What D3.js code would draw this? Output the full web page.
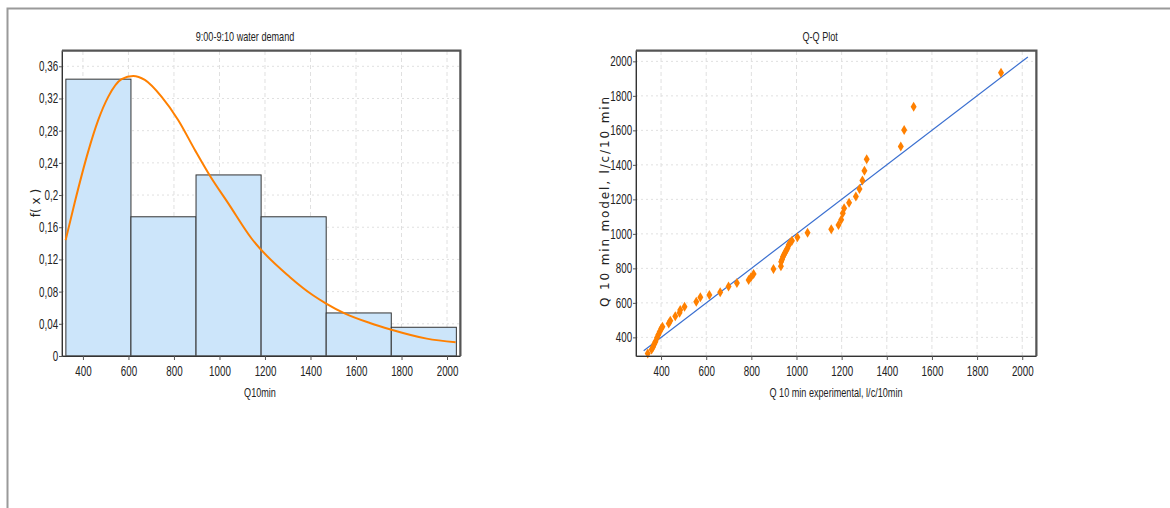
<!DOCTYPE html>
<html>
<head>
<meta charset="utf-8">
<script src="https://cdnjs.cloudflare.com/ajax/libs/d3/7.8.5/d3.min.js"></script>
<style>
  body { margin: 0; background: #fff; }
  svg text.sq { transform-box: fill-box; transform-origin: center; transform: scaleX(0.7); }
  svg text.sqr { transform-box: fill-box; transform-origin: right center; transform: scaleX(0.7); }
</style>
</head>
<body>
<div id="chart"></div>
<script>
// histogram (relative frequency per class)
var binEdges = [325, 611, 897, 1183, 1469, 1755, 2041];
var binFreq = [0.344, 0.173, 0.225, 0.173, 0.0535, 0.0357];

// fitted density
var curveX = [324, 365, 423, 467, 511, 570, 621, 672, 746, 819, 892, 958, 1038, 1141, 1310, 1411, 1467, 1550, 1661, 1752, 1911, 2038];
var curveY = [0.144, 0.192, 0.254, 0.293, 0.322, 0.344, 0.348, 0.343, 0.322, 0.293, 0.256, 0.224, 0.190, 0.146, 0.098, 0.0755, 0.0655, 0.053, 0.041, 0.033, 0.0216, 0.017];

// Q-Q points: experimental vs model
var qqExp = [341, 358, 365, 370, 375, 382, 388, 394, 401, 406, 434, 441, 463, 482, 485, 504, 556, 574, 614, 662, 699, 736, 788, 798, 810,
             898, 931, 932, 936, 940, 945, 950, 955, 960, 965, 972, 980, 1004, 1049, 1154, 1186, 1198, 1205, 1211, 1233, 1263, 1279, 1292, 1301, 1311,
             1462, 1477, 1519, 1906];
var qqMod = [307, 330, 346, 362, 375, 398, 415, 432, 452, 462, 481, 496, 523, 543, 558, 577, 606, 632, 645, 662, 695, 715, 732, 748, 767,
             797, 812, 838, 852, 867, 880, 892, 905, 916, 935, 948, 960, 980, 1006, 1027, 1052, 1082, 1119, 1148, 1181, 1217, 1260, 1310, 1366, 1433,
             1507, 1602, 1737, 1934];
var qqLine = [323, 2025];

var histXTicks = [400, 600, 800, 1000, 1200, 1400, 1600, 1800, 2000];
var histYTicks = [0, 0.04, 0.08, 0.12, 0.16, 0.2, 0.24, 0.28, 0.32, 0.36];
var qqXTicks = [400, 600, 800, 1000, 1200, 1400, 1600, 1800, 2000];
var qqYTicks = [400, 600, 800, 1000, 1200, 1400, 1600, 1800, 2000];

var W = 1170, H = 508;
var font = "'Liberation Sans', Arial, sans-serif";

var svg = d3.select("#chart").append("svg")
  .attr("width", W).attr("height", H)
  .style("font-family", font);

// outer frame
svg.append("path")
  .attr("d", "M7.5,508 V8.5 H1170")
  .attr("fill", "none").attr("stroke", "#9a9a9a").attr("stroke-width", 2);

function panel(opt) {
  var g = svg.append("g");
  var x = opt.x, y = opt.y;
  var x0 = x.range()[0], x1 = x.range()[1], y0 = y.range()[1], y1 = y.range()[0];

  // grid
  g.append("g").selectAll("line").data(opt.xTicks).enter().append("line")
    .attr("x1", function(d) { return x(d); }).attr("x2", function(d) { return x(d); })
    .attr("y1", y0).attr("y2", y1)
    .attr("stroke", "#e0e0e0").attr("stroke-dasharray", "4,3");
  g.append("g").selectAll("line").data(opt.yTicks).enter().append("line")
    .attr("y1", function(d) { return y(d); }).attr("y2", function(d) { return y(d); })
    .attr("x1", x0).attr("x2", x1)
    .attr("stroke", "#e0e0e0").attr("stroke-dasharray", "2,3");

  opt.draw(g, x, y);

  // frame
  g.append("rect").attr("x", x0).attr("y", y0).attr("width", x1 - x0).attr("height", y1 - y0)
    .attr("fill", "none").attr("stroke", "#555");
  g.append("path").attr("d", "M" + x0 + "," + (y0 - 0.5) + " H" + (x1 + 0.5) + " V" + y1)
    .attr("fill", "none").attr("stroke", "#555").attr("stroke-width", 2);

  // axes with minor ticks
  var gx = g.append("g").attr("transform", "translate(0," + y1 + ")");
  gx.call(d3.axisBottom(x).tickValues(opt.xMinor).tickSize(2).tickFormat(""));
  gx.call(d3.axisBottom(x).tickValues(opt.xTicks).tickSizeInner(4).tickSizeOuter(0).tickPadding(6).tickFormat(d3.format("d")));
  gx.selectAll(".tick text").attr("class", "sq").style("font-size", "14px").attr("fill", "#222");
  gx.selectAll("path.domain").attr("stroke", "#333");
  gx.selectAll("line").attr("stroke", "#555");

  var gy = g.append("g").attr("transform", "translate(" + x0 + ",0)");
  gy.call(d3.axisLeft(y).tickValues(opt.yMinor).tickSize(2).tickFormat(""));
  gy.call(d3.axisLeft(y).tickValues(opt.yTicks).tickSizeInner(3).tickSizeOuter(0).tickPadding(opt.yPad).tickFormat(opt.yFmt));
  gy.selectAll(".tick text").attr("class", "sqr").style("font-size", "14px").attr("fill", "#222");
  gy.selectAll("path.domain").attr("stroke", "#333");
  gy.selectAll("line").attr("stroke", "#555");

  // texts
  g.append("text").attr("class", "sq").attr("x", opt.titleX).attr("y", 41)
    .attr("text-anchor", "middle").style("font-size", "13px").attr("fill", "#222").text(opt.title);
  g.append("text").attr("class", "sq").attr("x", opt.xLabX).attr("y", 397)
    .attr("text-anchor", "middle").style("font-size", "13px").attr("fill", "#222").text(opt.xLab);
  opt.yLab(g);
}

// left panel: histogram + density
panel({
  x: d3.scaleLinear().domain([308, 2057]).range([62, 460]),
  y: d3.scaleLinear().domain([0, 0.379]).range([356, 51]),
  xTicks: histXTicks, yTicks: histYTicks,
  xMinor: d3.range(350, 2051, 50), yMinor: d3.range(0, 0.37, 0.02),
  yPad: 1,
  yFmt: function(d) { return d3.format(".2~f")(d).replace(".", ","); },
  title: "9:00-9:10 water demand", titleX: 245,
  xLab: "Q10min", xLabX: 260,
  yLab: function(g) {
    g.append("text").attr("transform", "translate(40,203) rotate(-90)")
      .attr("text-anchor", "middle").style("font-family", "'DejaVu Sans', sans-serif")
      .style("font-size", "12px").attr("fill", "#222").text("f( x )");
  },
  draw: function(g, x, y) {
    g.append("g").selectAll("rect").data(binFreq).enter().append("rect")
      .attr("x", function(d, i) { return x(binEdges[i]); })
      .attr("width", function(d, i) { return x(binEdges[i + 1]) - x(binEdges[i]); })
      .attr("y", function(d) { return y(d); })
      .attr("height", function(d) { return y(0) - y(d); })
      .attr("fill", "#cce5fa").attr("stroke", "#333").attr("stroke-width", 1);
    var line = d3.line().x(function(d) { return x(d[0]); }).y(function(d) { return y(d[1]); })
      .curve(d3.curveMonotoneX);
    g.append("path").datum(d3.zip(curveX, curveY))
      .attr("d", line).attr("fill", "none").attr("stroke", "#ff8000").attr("stroke-width", 2);
  }
});

// right panel: Q-Q plot
panel({
  x: d3.scaleLinear().domain([289, 2061]).range([636, 1036]),
  y: d3.scaleLinear().domain([292, 2060]).range([356, 51]),
  xTicks: qqXTicks, yTicks: qqYTicks,
  xMinor: d3.range(300, 2051, 50), yMinor: d3.range(300, 2051, 100),
  yPad: 1,
  yFmt: d3.format("d"),
  title: "Q-Q Plot", titleX: 820,
  xLab: "Q 10 min experimental, l/c/10min", xLabX: 836,
  yLab: function(g) {
    g.append("text").attr("transform", "translate(609,202) rotate(-90)")
      .attr("text-anchor", "middle").style("font-family", "'DejaVu Sans', sans-serif")
      .style("font-size", "12px").attr("fill", "#222")
      .attr("textLength", 210).attr("lengthAdjust", "spacing")
      .text("Q 10 min model, l/c/10 min");
  },
  draw: function(g, x, y) {
    var line = d3.line().x(function(d) { return x(d); }).y(function(d) { return y(d); });
    g.append("path").datum(qqLine).attr("d", line)
      .attr("fill", "none").attr("stroke", "#3a6fd0").attr("stroke-width", 1.2);
    g.append("g").selectAll("path").data(d3.zip(qqExp, qqMod)).enter().append("path")
      .attr("transform", function(d) { return "translate(" + x(d[0]) + "," + y(d[1]) + ")"; })
      .attr("d", "M0,-5 L3,0 L0,5 L-3,0 Z")
      .attr("fill", "#ff8000");
  }
});
</script>
</body>
</html>
